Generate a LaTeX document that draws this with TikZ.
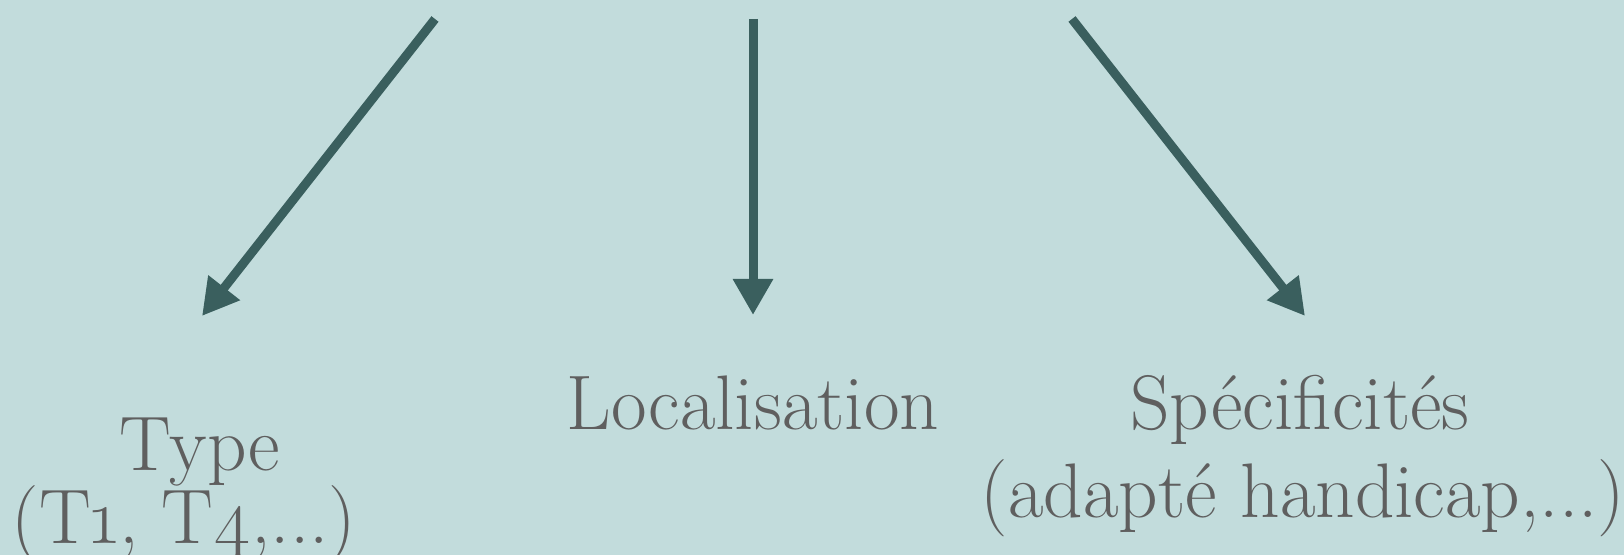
\documentclass[tikz,border=0pt]{standalone}
\usepackage{fontspec}
\setmainfont{Latin Modern Roman}
\usepackage{xcolor}
\usetikzlibrary{arrows.meta}
\definecolor{bgteal}{HTML}{C2DCDC}
\definecolor{arrowteal}{HTML}{3A5F5E}
\definecolor{labelgray}{HTML}{5F5F5F}
\tikzset{
  critlabel/.style={anchor=base,inner sep=0pt,text=labelgray,font=\fontsize{22}{25}\selectfont},
  critarrow/.style={-{Triangle[length=3.6mm,width=3.8mm]},line width=0.9mm,draw=arrowteal}
}
\begin{document}
\begin{tikzpicture}[x=0.01cm,y=-0.01cm]
  \fill[bgteal] (0,0) rectangle (1624,555);
  \useasboundingbox (0,0) rectangle (1624,555);
  % start and end points of the three arrows
  \coordinate (topleft) at (435,19);
  \coordinate (tipleft) at (202,316);
  \coordinate (topmid) at (753,19);
  \coordinate (tipmid) at (753,315);
  \coordinate (topright) at (1072,19);
  \coordinate (tipright) at (1305,316);
  \node[critlabel] (type) at (200,471) {Type};
  \node[critlabel] (typeinfo) at (184,544) {(T{\addfontfeature{Numbers=OldStyle}1}, T{\addfontfeature{Numbers=OldStyle}4},...)};
  \node[critlabel] (loc) at (753,430) {Localisation};
  \node[critlabel] (spec) at (1300,430) {Spécificités};
  \node[critlabel] (specinfo) at (1303,518) {(adapté handicap,...)};
  \draw[critarrow] (topleft) -- (tipleft);
  \draw[critarrow] (topmid) -- (tipmid);
  \draw[critarrow] (topright) -- (tipright);
\end{tikzpicture}
\end{document}
